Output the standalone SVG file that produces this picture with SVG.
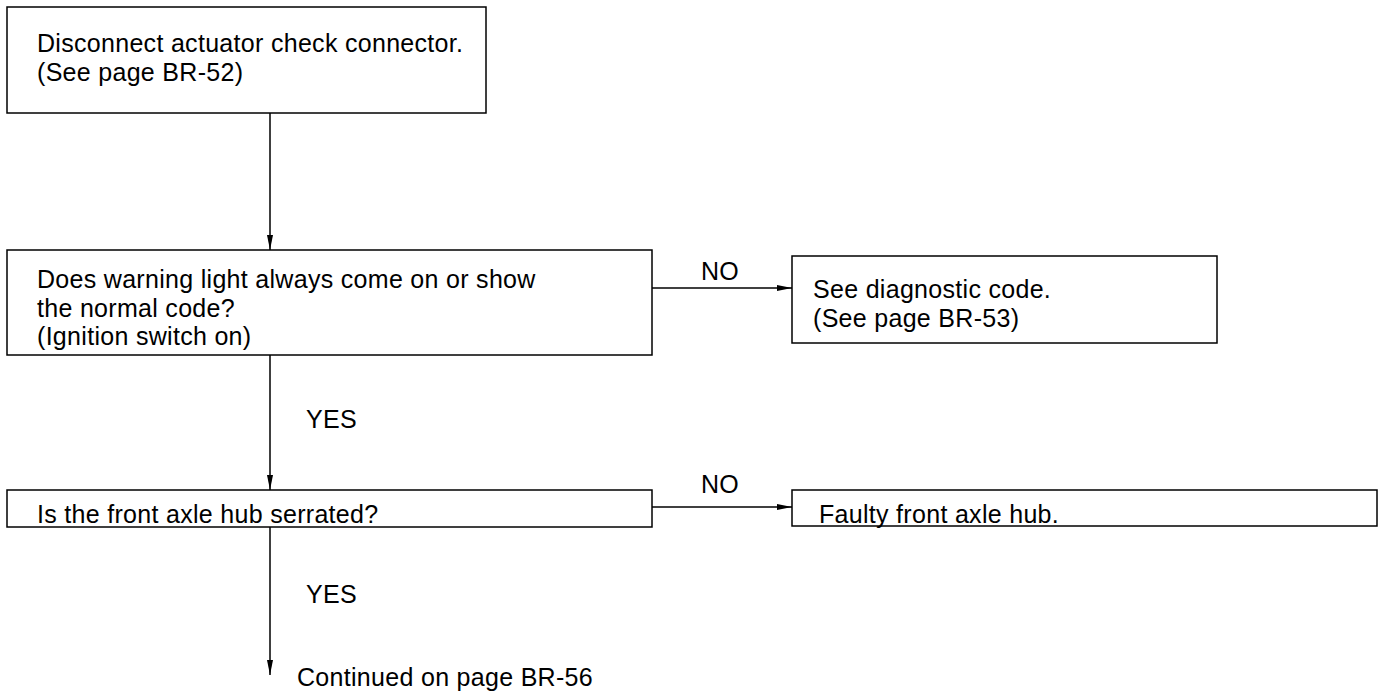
<svg xmlns="http://www.w3.org/2000/svg" width="1382" height="692" viewBox="0 0 1382 692">
<style>
.box{fill:#fff;stroke:#000;stroke-width:1.5}
.t{font-family:"Liberation Sans",Arial,sans-serif;font-size:25px;letter-spacing:0.3px;fill:#000}
.c{stroke:#000;stroke-width:1.5;fill:none}
</style>
<defs>
<marker id="ah" markerWidth="16" markerHeight="8" refX="15" refY="4" orient="auto" markerUnits="userSpaceOnUse">
<path d="M0,1 L15,4 L0,7 Z" fill="#000"/>
</marker>
</defs>
<rect width="1382" height="692" fill="#fff"/>
<g id="connectors">
<line class="c" x1="270" y1="113" x2="270" y2="250" marker-end="url(#ah)"/>
<line class="c" x1="652" y1="288" x2="792" y2="288" marker-end="url(#ah)"/>
<line class="c" x1="270" y1="355" x2="270" y2="490" marker-end="url(#ah)"/>
<line class="c" x1="652" y1="507" x2="792" y2="507" marker-end="url(#ah)"/>
<line class="c" x1="270" y1="527" x2="270" y2="675" marker-end="url(#ah)"/>
<text class="t" x="701" y="280">NO</text>
<text class="t" x="306" y="428">YES</text>
<text class="t" x="701" y="493">NO</text>
<text class="t" x="306" y="603">YES</text>
</g>
<g id="n1">
<rect class="box" x="7" y="7" width="479" height="106"/>
<text class="t" x="37" y="52">Disconnect actuator check connector.</text>
<text class="t" x="37" y="81">(See page BR-52)</text>
</g>
<g id="n2">
<rect class="box" x="7" y="250" width="645" height="105"/>
<text class="t" x="37" y="288">Does warning light always come on or show</text>
<text class="t" x="37" y="317">the normal code?</text>
<text class="t" x="37" y="345">(Ignition switch on)</text>
</g>
<g id="n3">
<rect class="box" x="792" y="256" width="425" height="87"/>
<text class="t" x="813" y="298">See diagnostic code.</text>
<text class="t" x="813" y="327">(See page BR-53)</text>
</g>
<g id="n4">
<rect class="box" x="7" y="490" width="645" height="37"/>
<text class="t" x="37" y="523">Is the front axle hub serrated?</text>
</g>
<g id="n5">
<rect class="box" x="792" y="490" width="585" height="36"/>
<text class="t" x="819" y="523">Faulty front axle hub.</text>
</g>
<g id="n6">
<text class="t" x="297" y="686">Continued on page BR-56</text>
</g>
</svg>
